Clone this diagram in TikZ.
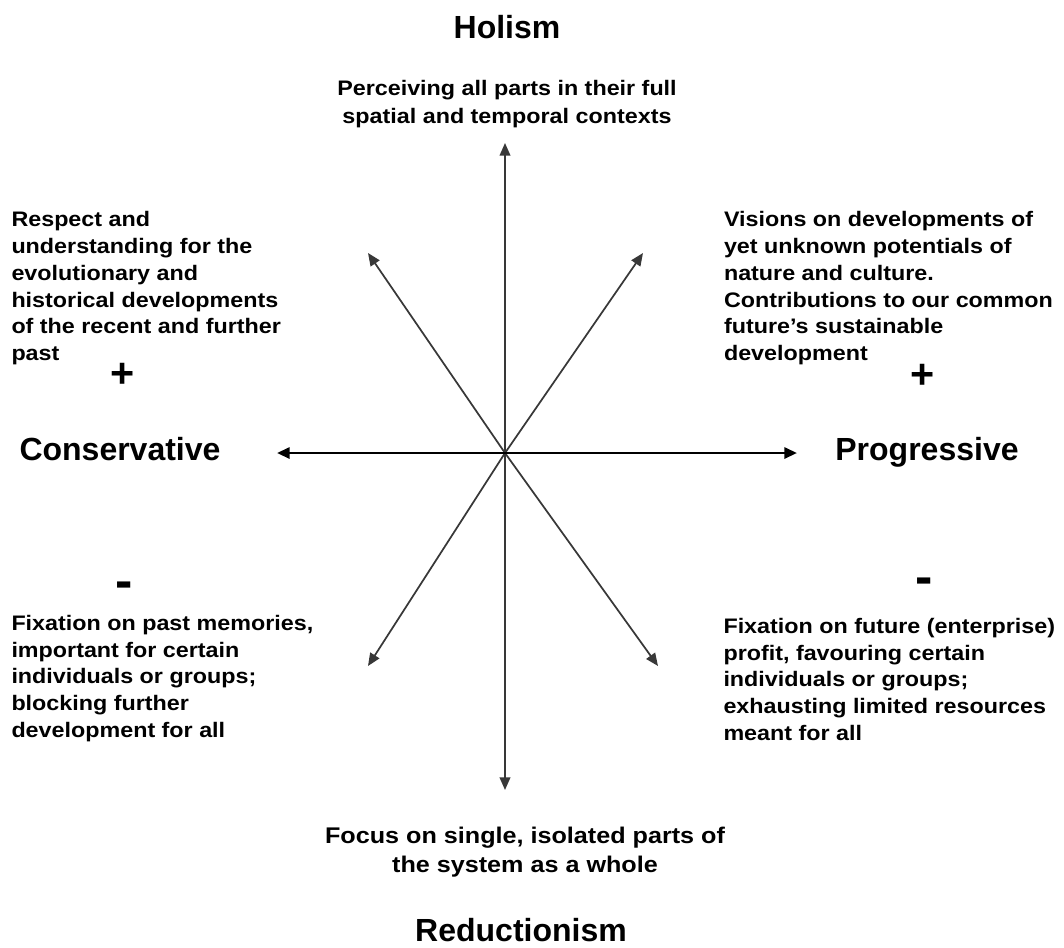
\documentclass[tikz,border=0pt]{standalone}
\usepackage{fontspec}
\setmainfont{Liberation Sans}
\newfontfamily\bodyfont{Liberation Sans}[FakeStretch=1.11]
\usetikzlibrary{arrows.meta}
\begin{document}
\begin{tikzpicture}[x=0.75pt,y=-0.75pt,
  every node/.style={inner sep=0pt,outer sep=0pt},
  heading/.style={font=\bfseries\fontsize{24}{28}\selectfont},
  desc/.style={font=\bodyfont\bfseries\fontsize{15.75}{20.1}\selectfont, align=left},
  cdesc/.style={font=\bodyfont\bfseries\fontsize{15.75}{21.45}\selectfont, align=center},
  bdesc/.style={font=\bodyfont\bfseries\fontsize{17}{21.75}\selectfont, align=center},
  plussign/.style={font=\bfseries\fontsize{31}{31}\selectfont},
  minussign/.style={font=\bfseries\fontsize{39}{39}\selectfont},
  axisarrow/.style={line width=2pt, black, -{Triangle[length=9.4pt,width=8.2pt]}},
  rayarrow/.style={line width=1.3pt, black!78, -{Triangle[length=9.5pt,width=8pt]}}]
\useasboundingbox (0,0) rectangle (1064,947);
% centre and arrow ends
\coordinate (o) at (505,453);
\coordinate (tn) at (505,143);
\coordinate (ts) at (505,790);
\coordinate (tw) at (277,453);
\coordinate (te) at (797,453);
\coordinate (tnw) at (368,253);
\coordinate (tne) at (643,253);
\coordinate (tsw) at (368,666);
\coordinate (tse) at (658,666);
% arrows
\draw[rayarrow] (o) -- (tn);
\draw[rayarrow] (o) -- (ts);
\draw[rayarrow] (o) -- (tnw);
\draw[rayarrow] (o) -- (tne);
\draw[rayarrow] (o) -- (tsw);
\draw[rayarrow] (o) -- (tse);
\draw[axisarrow] (o) -- (tw);
\draw[axisarrow] (o) -- (te);
% headings
\node[heading, anchor=base] (holism) at (507,38.5) {Holism};
\node[heading, anchor=base] (cons) at (120,460) {Conservative};
\node[heading, anchor=base] (prog) at (927,460) {Progressive};
\node[heading, anchor=base] (red) at (521,941) {Reductionism};
% descriptions
\node[cdesc, anchor=north] (ptop) at (507,80) {Perceiving all parts in their full\\spatial and temporal contexts};
\node[bdesc, anchor=north] (pbot) at (525,827) {Focus on single, isolated parts of\\the system as a whole};
\node[desc, anchor=north west] (ul) at (11.5,211.5) {Respect and\\understanding for the\\evolutionary and\\historical developments\\of the recent and further\\past};
\node[desc, anchor=north west] (ur) at (724,211.5) {Visions on developments of\\yet unknown potentials of\\nature and culture.\\Contributions to our common\\future’s sustainable\\development};
\node[desc, anchor=north west] (ll) at (11.5,615) {Fixation on past memories,\\important for certain\\individuals or groups;\\blocking further\\development for all};
\node[desc, anchor=north west] (lr) at (723.5,618) {Fixation on future (enterprise)\\profit, favouring certain\\individuals or groups;\\exhausting limited resources\\meant for all};
% signs
\node[plussign, anchor=base] (pl) at (123,387.5) {+};
\node[plussign, anchor=base] (pr) at (923,388.5) {+};
\node[minussign, anchor=base] (ml) at (124.5,598.8) {-};
\node[minussign, anchor=base] (mr) at (924,594.3) {-};
\end{tikzpicture}
\end{document}
